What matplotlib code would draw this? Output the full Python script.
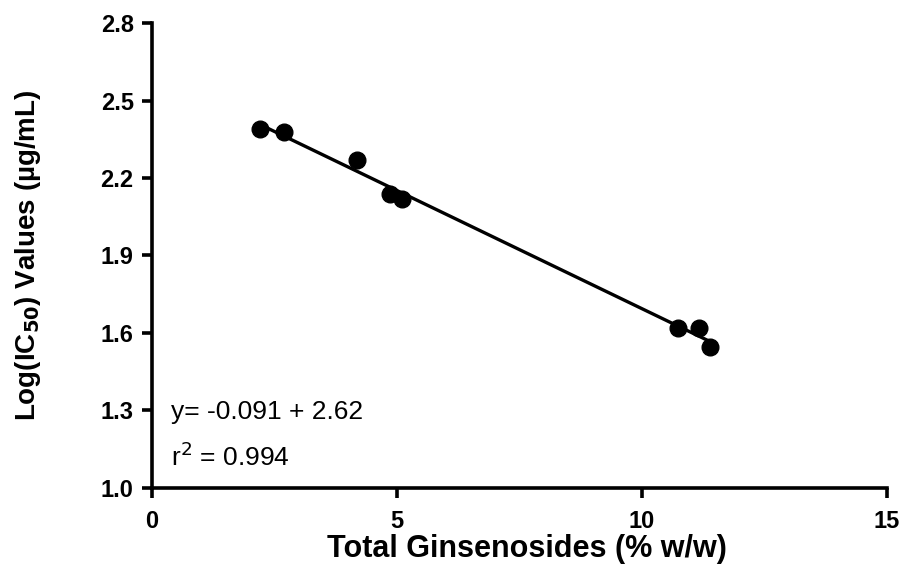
import numpy as np
import matplotlib.pyplot as plt

# total ginsenosides (% w/w) vs log(IC50)
ginsenosides = [2.20, 2.69, 4.19, 4.87, 5.10, 10.75, 11.16, 11.39]
log_ic50 = [2.39, 2.38, 2.27, 2.14, 2.12, 1.62, 1.62, 1.545]

x_ticks = [0, 5, 10, 15]
y_ticks = [1.0, 1.3, 1.6, 1.9, 2.2, 2.5, 2.8]

plt.rcParams['font.family'] = ['Liberation Sans', 'DejaVu Sans']

fig = plt.figure(figsize=(9.03, 5.78), dpi=100)
ax = fig.add_axes([0.168, 0.156, 0.814, 0.804])

ax.plot(ginsenosides, log_ic50, 'o', color='black', markersize=12, zorder=3)

# linear regression line over the data range
slope, intercept = np.polyfit(ginsenosides, log_ic50, 1)
xs = np.array([min(ginsenosides), max(ginsenosides)])
ax.plot(xs, slope * xs + intercept, color='black', linewidth=2.4)

ax.set_xlim(0, 15)
ax.set_ylim(1.0, 2.8)
ax.set_xticks(x_ticks)
ax.set_yticks(y_ticks)
ax.set_xticklabels([str(v) for v in x_ticks])
ax.set_yticklabels([f'{v:.1f}' for v in y_ticks])

for side in ['top', 'right']:
    ax.spines[side].set_visible(False)
for side in ['left', 'bottom']:
    ax.spines[side].set_linewidth(2.6)
ax.tick_params(width=2.6, length=7, labelsize=17)
ax.tick_params(axis='x', pad=9)
ax.tick_params(axis='y', pad=6)
for lab in ax.get_xticklabels() + ax.get_yticklabels():
    lab.set_fontweight('bold')

ax.set_xlabel('Total Ginsenosides (% w/w)', fontsize=22, fontweight='bold')
ax.xaxis.set_label_coords(0.51, -0.1)
ax.set_ylabel(r'Log(IC$_{\mathbf{50}}$) Values (µg/mL)', fontsize=20, fontweight='bold')
ax.yaxis.set_label_coords(-0.148, 0.5)

ax.text(0.4, 1.292, 'y= -0.091 + 2.62', fontsize=19, va='center')
ax.text(0.4, 1.121, r'r$^2$ = 0.994', fontsize=19, va='center')

fig.savefig('out.png', dpi=100)
